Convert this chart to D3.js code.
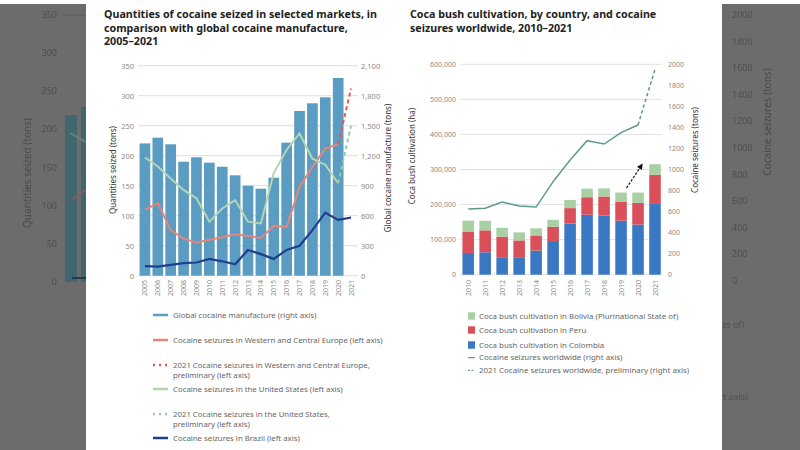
<!DOCTYPE html>
<html><head><meta charset="utf-8">
<script src="https://cdn.jsdelivr.net/npm/d3@7/dist/d3.min.js"></script>
<style>
body{margin:0;background:#fff}
svg{display:block;font-family:'Noto Sans',sans-serif}
</style>
</head><body>
<svg id="c" width="800" height="450"></svg>
<script>
// ---------- Data: left chart ----------
const years1 = ["2005","2006","2007","2008","2009","2010","2011","2012","2013","2014","2015","2016","2017","2018","2019","2020","2021"];
const manufacture = [1323,1380,1314,1140,1184,1130,1090,1004,900,870,980,1330,1647,1724,1784,1977,null];
const europe = [110,121,76,62,55,60,64,69,66,63,83,81,148,181,212,219,null];
const europe2021 = 312;
const unitedStates = [197,182,162,143,129,90,112,126,90,87,171,210,237,195,185,154,null];
const unitedStates2021 = 250;
const brazil = [16,15,18,21,22,28,24,19,43,36,28,43,50,76,105,93,97];
const leftTicks1 = [0,50,100,150,200,250,300,350];
const rightTicks1 = [0,300,600,900,1200,1500,1800,2100];

// ---------- Data: right chart ----------
const years2 = ["2010","2011","2012","2013","2014","2015","2016","2017","2018","2019","2020","2021"];
const colombia = [62000,64000,48000,48000,69000,96000,146000,171000,169000,154000,143000,204000];
const peru = [61200,62500,60400,49800,42900,40300,43900,49900,54100,54700,61800,80700];
const bolivia = [31000,27200,25300,23000,20400,20200,23100,24500,23100,25500,29400,30500];
const seizures = [624,631,691,653,643,884,1090,1274,1242,1350,1423,null];
const seizures2021 = 1952;
const leftTicks2 = [0,100000,200000,300000,400000,500000,600000];
const rightTicks2 = [0,200,400,600,800,1000,1200,1400,1600,1800,2000];

// ---------- Text ----------
const title1 = ["Quantities of cocaine seized in selected markets, in","comparison with global cocaine manufacture,","2005–2021"];
const title2 = ["Coca bush cultivation, by country, and cocaine","seizures worldwide, 2010–2021"];
const legend1 = [
  {lines:["Global cocaine manufacture (right axis)"], type:"line", color:"#5b9cc2"},
  {lines:["Cocaine seizures in Western and Central Europe (left axis)"], type:"line", color:"#e8857b"},
  {lines:["2021 Cocaine seizures in Western and Central Europe,","preliminary (left axis)"], type:"dot", color:"#e05a50"},
  {lines:["Cocaine seizures in the United States (left axis)"], type:"line", color:"#b4d6ae"},
  {lines:["2021 Cocaine seizures in the United States,","preliminary (left axis)"], type:"dot", color:"#9ccaa0"},
  {lines:["Cocaine seizures in Brazil (left axis)"], type:"line", color:"#1f3f8c"}
];
const legend2 = [
  {label:"Coca bush cultivation in Bolivia (Plurinational State of)", type:"rect", color:"#a9cfa5"},
  {label:"Coca bush cultivation in Peru", type:"rect", color:"#d9505a"},
  {label:"Coca bush cultivation in Colombia", type:"rect", color:"#3a78c3"},
  {label:"Cocaine seizures worldwide (right axis)", type:"line", color:"#5f9a8f"},
  {label:"2021 Cocaine seizures worldwide, preliminary (right axis)", type:"dash", color:"#5f9a8f"}
];

const svg = d3.select("#c");
const fmt = d3.format(",");

// ---------- Blurred backdrop ----------
const bgCol = "#6c6c6c";
svg.append("rect").attr("x",0).attr("y",0).attr("width",800).attr("height",450).attr("fill","#fff");
svg.append("rect").attr("x",0).attr("y",4).attr("width",86).attr("height",446).attr("fill",bgCol);
svg.append("rect").attr("x",722).attr("y",4).attr("width",78).attr("height",446).attr("fill",bgCol);
const defs = svg.append("defs");
defs.append("filter").attr("id","blur").append("feGaussianBlur").attr("stdDeviation",0.7);
const bg = svg.append("g").attr("filter","url(#blur)");
const bgL = d3.scaleLinear().domain([0,350]).range([282,15]);
bg.selectAll("text.bl").data(leftTicks1).join("text").attr("x",57).attr("y",d=>bgL(d)+3)
  .attr("text-anchor","end").attr("font-size",9).attr("fill","#4e4e4e").text(d=>d);
bg.append("line").attr("x1",63).attr("x2",86).attr("y1",15).attr("y2",15).attr("stroke","#5a5a5a");
bg.append("text").attr("transform","translate(31,173) rotate(-90)").attr("text-anchor","middle")
  .attr("font-size",10).attr("fill","#4a4a4a").text("Quantities seized (tons)");
bg.append("rect").attr("x",65).attr("y",115).attr("width",12).attr("height",167).attr("fill","#3f6670");
bg.append("rect").attr("x",81).attr("y",107).attr("width",5).attr("height",175).attr("fill","#3f6670");
bg.append("path").attr("d","M72,200 L86,190").attr("stroke","#8a5a58").attr("stroke-width",2).attr("fill","none");
bg.append("path").attr("d","M70,133 L86,142").attr("stroke","#6f8270").attr("stroke-width",2).attr("fill","none");
bg.append("path").attr("d","M72,278 L86,278").attr("stroke","#2a3552").attr("stroke-width",2).attr("fill","none");
const bgR = d3.scaleLinear().domain([0,2000]).range([281,15]);
bg.selectAll("text.br").data(rightTicks2).join("text").attr("x",732).attr("y",d=>bgR(d)+3)
  .attr("font-size",9).attr("fill","#4e4e4e").text(d=>d);
bg.append("text").attr("transform","translate(771,122) rotate(-90)").attr("text-anchor","middle")
  .attr("font-size",10).attr("fill","#4a4a4a").text("Cocaine seizures (tons)");
bg.append("text").attr("x",723).attr("y",328).attr("font-size",9).attr("fill","#4e4e4e").text("ts of)");
bg.append("text").attr("x",723).attr("y",400).attr("font-size",9).attr("fill","#4e4e4e").text("t axis)");

// white panel
svg.append("rect").attr("x",86).attr("y",0).attr("width",636).attr("height",450).attr("fill","#fff");

// ---------- Left chart ----------
const g1 = svg.append("g");
g1.selectAll("text.t").data(title1).join("text").attr("x",104).attr("y",(d,i)=>18+i*13.5)
  .attr("font-size",10.7).attr("font-weight",700).attr("fill","#222").text(d=>d);

const x1 = d3.scaleBand().domain(years1).range([138.5,357.5]).paddingInner(0.17).paddingOuter(0.085);
const yL1 = d3.scaleLinear().domain([0,350]).range([275.7,65.7]);
const yR1 = d3.scaleLinear().domain([0,2100]).range([275.7,65.7]);
const bw1 = x1.bandwidth();
const cx1 = d => x1(d)+bw1/2;

g1.selectAll("line.grid").data(leftTicks1).join("line")
  .attr("x1",138).attr("x2",358).attr("y1",d=>yL1(d)).attr("y2",d=>yL1(d))
  .attr("stroke","#dedede").attr("stroke-width",1);

const axL1 = g1.append("g").attr("transform","translate(138,0)")
  .call(d3.axisLeft(yL1).tickValues(leftTicks1).tickSize(0).tickPadding(4).tickFormat(d=>d));
const axR1 = g1.append("g").attr("transform","translate(358,0)")
  .call(d3.axisRight(yR1).tickValues(rightTicks1).tickSize(0).tickPadding(3).tickFormat(fmt));
[axL1,axR1].forEach(a=>{a.select(".domain").remove();a.selectAll("text").attr("font-size",7.5).attr("fill","#8a8a8a").attr("font-family","'Noto Sans',sans-serif");});

g1.selectAll("rect.bar").data(years1.map((y,i)=>({y,v:manufacture[i]})).filter(d=>d.v!=null)).join("rect")
  .attr("x",d=>x1(d.y)).attr("width",bw1).attr("y",d=>yR1(d.v)).attr("height",d=>yR1(0)-yR1(d.v))
  .attr("fill","#5b9cc2");

const line1 = d3.line().defined(d=>d.v!=null).x(d=>cx1(d.y)).y(d=>yL1(d.v));
function seriesPts(arr){return years1.map((y,i)=>({y,v:arr[i]}));}
g1.append("path").datum(seriesPts(europe)).attr("d",line1).attr("fill","none").attr("stroke","#e8857b").attr("stroke-width",2);
g1.append("path").datum([{y:"2020",v:europe[15]},{y:"2021",v:europe2021}]).attr("d",line1)
  .attr("fill","none").attr("stroke","#e05a50").attr("stroke-width",2).attr("stroke-dasharray","4,3");
g1.append("path").datum(seriesPts(unitedStates)).attr("d",line1).attr("fill","none").attr("stroke","#b4d6ae").attr("stroke-width",2);
g1.append("path").datum([{y:"2020",v:unitedStates[15]},{y:"2021",v:unitedStates2021}]).attr("d",line1)
  .attr("fill","none").attr("stroke","#9ccaa0").attr("stroke-width",2).attr("stroke-dasharray","4,3");
g1.append("path").datum(seriesPts(brazil)).attr("d",line1).attr("fill","none").attr("stroke","#1f3f8c").attr("stroke-width",2.2);

g1.selectAll("text.yr").data(years1).join("text")
  .attr("transform",d=>`translate(${cx1(d)+2.5},280) rotate(-90)`).attr("text-anchor","end")
  .attr("font-size",7).attr("fill","#8a8a8a").text(d=>d);

g1.append("text").attr("transform","translate(116,170) rotate(-90)").attr("text-anchor","middle")
  .attr("font-size",8).attr("fill","#333").text("Quantities seized (tons)");
g1.append("text").attr("transform","translate(391,168) rotate(-90)").attr("text-anchor","middle")
  .attr("font-size",8).attr("fill","#333").text("Global cocaine manufacture (tons)");

const legY1 = [315,340,365,389,414,438];
legend1.forEach((d,i)=>{
  const y = legY1[i];
  g1.append("line").attr("x1",153).attr("x2",168).attr("y1",y).attr("y2",y).attr("stroke",d.color).attr("stroke-width",2.5)
    .attr("stroke-dasharray",d.type==="dot"?"2,4":null);
  d.lines.forEach((t,j)=>{
    g1.append("text").attr("x",173).attr("y",y+2.8+j*10).attr("font-size",7.8).attr("fill","#666").text(t);
  });
});

// ---------- Right chart ----------
const g2 = svg.append("g");
g2.selectAll("text.t").data(title2).join("text").attr("x",410).attr("y",(d,i)=>18+i*13.5)
  .attr("font-size",10.7).attr("font-weight",700).attr("fill","#222").text(d=>d);

const x2 = d3.scaleBand().domain(years2).range([459.7,663.5]).paddingInner(0.32).paddingOuter(0.16);
const yL2 = d3.scaleLinear().domain([0,600000]).range([274.7,64.3]);
const yR2 = d3.scaleLinear().domain([0,2000]).range([274.7,64.3]);
const bw2 = x2.bandwidth();
const cx2 = d => x2(d)+bw2/2;

g2.selectAll("line.grid").data(leftTicks2).join("line")
  .attr("x1",460).attr("x2",662).attr("y1",d=>yL2(d)).attr("y2",d=>yL2(d))
  .attr("stroke","#e2e2e2").attr("stroke-width",1);

const axL2 = g2.append("g").attr("transform","translate(460,0)")
  .call(d3.axisLeft(yL2).tickValues(leftTicks2).tickSize(0).tickPadding(4).tickFormat(fmt));
const axR2 = g2.append("g").attr("transform","translate(664,0)")
  .call(d3.axisRight(yR2).tickValues(rightTicks2).tickSize(0).tickPadding(4).tickFormat(d=>d));
[axL2,axR2].forEach(a=>{a.select(".domain").remove();a.selectAll("text").attr("font-size",7).attr("fill","#8a8a8a").attr("font-family","'Noto Sans',sans-serif");});

const table2 = years2.map((y,i)=>({year:y,colombia:colombia[i],peru:peru[i],bolivia:bolivia[i]}));
const stack = d3.stack().keys(["colombia","peru","bolivia"])(table2);
const colors2 = {colombia:"#3a78c3",peru:"#d9505a",bolivia:"#a9cfa5"};
g2.selectAll("g.layer").data(stack).join("g").attr("fill",d=>colors2[d.key])
  .selectAll("rect").data(d=>d).join("rect")
  .attr("x",d=>x2(d.data.year)).attr("width",bw2)
  .attr("y",d=>yL2(d[1])).attr("height",d=>yL2(d[0])-yL2(d[1]));

const line2 = d3.line().defined(d=>d.v!=null).x(d=>cx2(d.y)).y(d=>yR2(d.v));
g2.append("path").datum(years2.map((y,i)=>({y,v:seizures[i]}))).attr("d",line2)
  .attr("fill","none").attr("stroke","#5f9a8f").attr("stroke-width",1.5);
g2.append("path").datum([{y:"2020",v:seizures[10]},{y:"2021",v:seizures2021}]).attr("d",line2)
  .attr("fill","none").attr("stroke","#5f9a8f").attr("stroke-width",1.5).attr("stroke-dasharray","3.5,2.5");

// annotation arrow
defs.append("marker").attr("id","arr").attr("viewBox","0 0 10 10").attr("refX",8).attr("refY",5)
  .attr("markerWidth",5).attr("markerHeight",5).attr("orient","auto")
  .append("path").attr("d","M0,0 L10,5 L0,10 z").attr("fill","#111");
g2.append("line").attr("x1",626.5).attr("y1",188).attr("x2",642).attr("y2",164.5)
  .attr("stroke","#111").attr("stroke-width",1.2).attr("stroke-dasharray","2.5,1.5").attr("marker-end","url(#arr)");

g2.selectAll("text.yr").data(years2).join("text")
  .attr("transform",d=>`translate(${cx2(d)+2.5},280) rotate(-90)`).attr("text-anchor","end")
  .attr("font-size",7).attr("fill","#8a8a8a").text(d=>d);

g2.append("text").attr("transform","translate(415,156) rotate(-90)").attr("text-anchor","middle")
  .attr("font-size",8).attr("fill","#333").text("Coca bush cultivation (ha)");
g2.append("text").attr("transform","translate(698,150) rotate(-90)").attr("text-anchor","middle")
  .attr("font-size",8).attr("fill","#333").text("Cocaine seizures (tons)");

const legY2 = [316,330,345,357.7,370.3];
legend2.forEach((d,i)=>{
  const y = legY2[i];
  if(d.type==="rect"){
    g2.append("rect").attr("x",468).attr("y",y-3.7).attr("width",7).attr("height",7.4).attr("fill",d.color);
  } else {
    g2.append("line").attr("x1",468).attr("x2",475).attr("y1",y).attr("y2",y).attr("stroke",d.color).attr("stroke-width",1.2)
      .attr("stroke-dasharray",d.type==="dash"?"2,1.5":null);
  }
  g2.append("text").attr("x",479).attr("y",y+2.7).attr("font-size",7.9).attr("fill","#666").text(d.label);
});
</script>
</body></html>
